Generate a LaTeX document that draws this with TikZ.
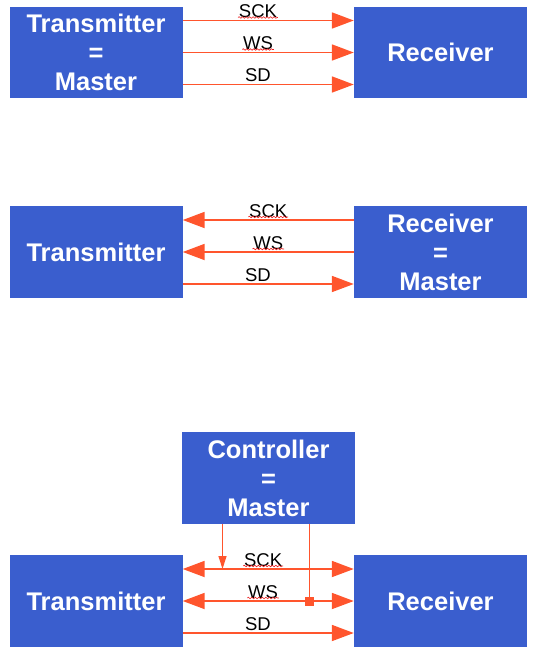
\documentclass[tikz,border=0pt]{standalone}
\usepackage{fontspec}
\setmainfont{Liberation Sans}
\usepackage{tikz}
\usetikzlibrary{positioning,arrows.meta,calc,decorations.pathmorphing}
\definecolor{boxblue}{RGB}{58,94,206}
\definecolor{sigred}{RGB}{255,85,45}
\definecolor{spellred}{RGB}{235,30,30}

\begin{document}
\begin{tikzpicture}[x=1pt,y=-1pt,
  unit/.style={fill=boxblue,text=white,font=\fontsize{25.5}{29}\selectfont\bfseries,
    align=center,minimum width=173pt,minimum height=91.5pt,inner sep=0pt},
  sig/.style={sigred,line width=1.8pt,-{Triangle[length=22pt,width=16pt]}},
  sigboth/.style={sigred,line width=1.8pt,{Triangle[length=22pt,width=16pt]}-{Triangle[length=22pt,width=16pt]}},
  ctl/.style={sigred,line width=1.2pt},
  lbl/.style={font=\fontsize{18.5}{20}\selectfont,text=black,inner sep=0pt,anchor=base,yshift=3pt},
  wavy/.style={spellred,line width=0.6pt,decorate,decoration={snake,segment length=3.5pt,amplitude=0.8pt}}]
\useasboundingbox (0,0) rectangle (538,656);
% Transmitter is master
\node[unit] (tx1) at (96,52.5) {Transmitter\\=\\Master};
\node[unit] (rx1) at (440.5,52.5) {Receiver};
\draw[sig] ([yshift=32pt]tx1.east) -- ([yshift=32pt]rx1.west) node[lbl,pos=0.44] (sck1) {SCK};
\draw[sig] (tx1.east) -- (rx1.west) node[lbl,pos=0.44] (ws1) {WS};
\draw[sig] ([yshift=-32pt]tx1.east) -- ([yshift=-32pt]rx1.west) node[lbl,pos=0.44] {SD};
\draw[wavy] (sck1.base west) -- (sck1.base east);
\draw[wavy] (ws1.base west) -- (ws1.base east);
% Receiver is master
\node[unit] (tx2) at (96,252) {Transmitter};
\node[unit] (rx2) at (440.5,252) {Receiver\\=\\Master};
\draw[sig] ([yshift=32pt]rx2.west) -- ([yshift=32pt]tx2.east) node[lbl,pos=0.5] (sck2) {SCK};
\draw[sig] (rx2.west) -- (tx2.east) node[lbl,pos=0.5] (ws2) {WS};
\draw[sig] ([yshift=-32pt]tx2.east) -- ([yshift=-32pt]rx2.west) node[lbl,pos=0.44] {SD};
\draw[wavy] (sck2.base west) -- (sck2.base east);
\draw[wavy] (ws2.base west) -- (ws2.base east);
% Controller is master
\node[unit] (ctrl) at (268.5,478) {Controller\\=\\Master};
\node[unit] (tx3) at (96,601) {Transmitter};
\node[unit] (rx3) at (440.5,601) {Receiver};
\draw[sigboth] ([yshift=32pt]tx3.east) -- ([yshift=32pt]rx3.west) node[lbl,pos=0.47] (sck3) {SCK};
\draw[sigboth] (tx3.east) -- (rx3.west) node[lbl,pos=0.47] (ws3) {WS};
\draw[sig] ([yshift=-32pt]tx3.east) -- ([yshift=-32pt]rx3.west) node[lbl,pos=0.44] {SD};
\draw[wavy] (sck3.base west) -- (sck3.base east);
\draw[wavy] (ws3.base west) -- (ws3.base east);
\coordinate (clk) at ([xshift=-46pt]ctrl.south);
\coordinate (sel) at ([xshift=41pt]ctrl.south);
\draw[ctl,-{Triangle[length=13pt,width=8pt]}] (clk) -- ($(clk |- tx3.east)+(0,-32)$);
\draw[ctl] (sel) -- (sel |- tx3.east);
\fill[sigred] ($(sel |- tx3.east)+(-4.5,-4.5)$) rectangle ++(9,9);
\end{tikzpicture}
\end{document}
